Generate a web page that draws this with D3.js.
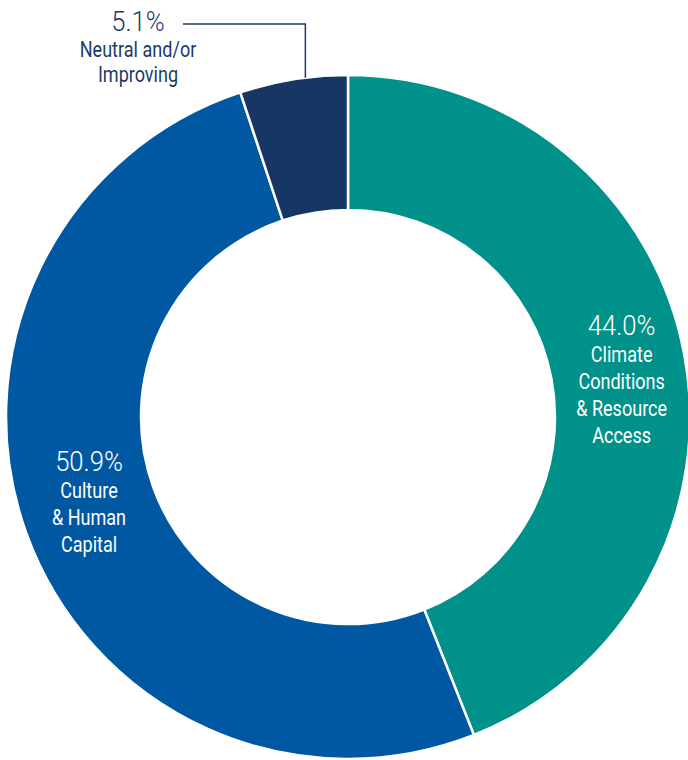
<!DOCTYPE html>
<html>
<head>
<meta charset="utf-8">
<script src="https://cdn.jsdelivr.net/npm/d3@7"></script>
<style>
  html, body { margin: 0; padding: 0; background: #fff; }
  svg { display: block; }
  text { font-family: "Roboto", "Liberation Sans", sans-serif; }
</style>
</head>
<body>
<svg id="chart" width="688" height="760"></svg>
<script>
// Shares by category, clockwise from 12 o'clock
const categories = ["Climate Conditions & Resource Access", "Culture & Human Capital", "Neutral and/or Improving"];
const values = [44.0, 50.9, 5.1];
const labelLines = [
  ["Climate", "Conditions", "& Resource", "Access"],
  ["Culture", "& Human", "Capital"],
  ["Neutral and/or", "Improving"]
];
const colors = ["#00918a", "#0058a3", "#163763"];

const width = 688, height = 760;
const cx = 348, cy = 417;
const outerR = 342, innerR = 207;

const svg = d3.select("#chart");
const g = svg.append("g").attr("transform", `translate(${cx},${cy})`);

const data = categories.map((c, i) => ({ name: c, value: values[i], lines: labelLines[i], color: colors[i] }));

const pie = d3.pie().value(d => d.value).sort(null);
const arc = d3.arc().innerRadius(innerR).outerRadius(outerR);
const arcs = pie(data);

g.selectAll("path.slice")
  .data(arcs)
  .join("path")
  .attr("class", "slice")
  .attr("d", arc)
  .attr("fill", d => d.data.color)
  .attr("stroke", "#fff")
  .attr("stroke-width", 2.5)
  .attr("stroke-linejoin", "miter");

const pctSize = 27, lineSize = 21.5, lineGap = 27;
const narrow = 0.84;           // condensed look for the category names
const fmt = d => d3.format(".1f")(d) + "%";

// Text helper: horizontally condensed, centred on x
function label(parent, x, y, str, size, fill, sx, weight) {
  parent.append("text")
    .attr("transform", `translate(${x},${y}) scale(${sx},1)`)
    .attr("text-anchor", "middle")
    .attr("fill", fill)
    .attr("font-size", size)
    .attr("font-weight", weight)
    .text(str);
}

// In-slice labels for the two large segments
const labelR = (innerR + outerR) / 2;
const inner = d3.arc().innerRadius(labelR).outerRadius(labelR);
const inOffsets = [[4, 14], [-1, -9]];
arcs.slice(0, 2).forEach((a, i) => {
  const [px, py] = inner.centroid(a);
  const n = a.data.lines.length;
  const blockH = pctSize * 0.72 + n * lineGap;
  const x = px + inOffsets[i][0];
  const top = py + inOffsets[i][1] - blockH / 2;
  label(g, x, top + pctSize * 0.72, fmt(a.data.value), pctSize, "#fff", 0.95, 300);
  a.data.lines.forEach((ln, j) => {
    label(g, x, top + pctSize * 0.72 + (j + 1) * lineGap, ln, lineSize, "#fff", narrow, 400);
  });
});

// Outside label with leader line for the small segment
const small = arcs[2];
const navyText = "#1b3a66";
const endAngle = small.endAngle - 0.125;           // attach point on outer rim
const ex = outerR * Math.sin(endAngle);
const ey = -outerR * Math.cos(endAngle);
const lineY = 24 - cy;
const textX = 138 - cx;
g.append("path")
  .attr("d", d3.line()([[textX + 45, lineY], [ex, lineY], [ex, ey]]))
  .attr("fill", "none")
  .attr("stroke", navyText)
  .attr("stroke-width", 1.5);
label(g, textX, 31 - cy, fmt(small.data.value), pctSize, navyText, 0.95, 300);
small.data.lines.forEach((ln, j) => {
  label(g, textX, 31 - cy + (j + 1) * 25.5, ln, lineSize, navyText, narrow, 400);
});
</script>
</body>
</html>
